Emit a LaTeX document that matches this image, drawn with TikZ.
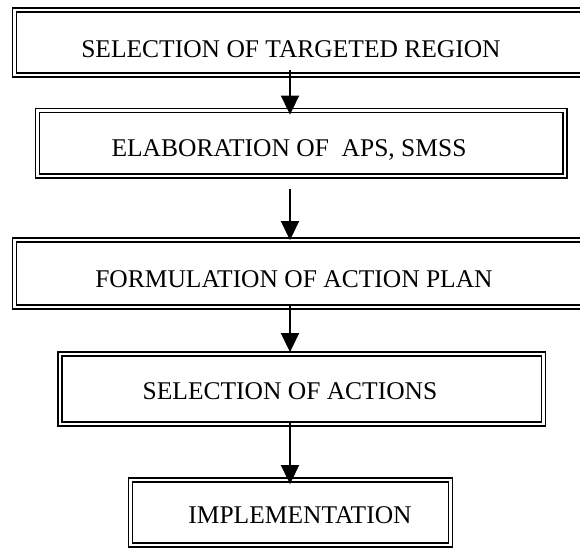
\documentclass[tikz,border=0pt]{standalone}
\usepackage{fontspec}
\setmainfont{Liberation Serif}
\usetikzlibrary{arrows.meta}
\tikzset{
  stagebox/.style={draw, double, double distance=2.2pt, line width=1.8pt, inner sep=0pt},
  stagetext/.style={anchor=base, inner sep=0pt, font=\fontsize{25.5}{30}\selectfont},
  flow/.style={line width=1.6pt, -{Triangle[length=19pt,width=18pt]}}
}
\begin{document}
\begin{tikzpicture}[x=1pt, y=-1pt]
  \useasboundingbox (0,0) rectangle (580,547);
  % framed stages, top to bottom
  \node[stagebox, minimum width=585.5pt, minimum height=65pt] (region) at (307.25,42.5) {};
  \node[stagebox, minimum width=527.5pt, minimum height=65.5pt] (elab) at (301.25,143.25) {};
  \node[stagebox, minimum width=585.5pt, minimum height=67pt] (plan) at (307.25,273.5) {};
  \node[stagebox, minimum width=483.5pt, minimum height=70pt] (choice) at (301.75,389) {};
  \node[stagebox, minimum width=320pt, minimum height=65pt] (impl) at (290.5,512.5) {};
  % stage labels
  \node[stagetext] (regiontxt) at (291,57) {SELECTION OF TARGETED REGION};
  \node[stagetext] (elabtxt) at (289,156) {ELABORATION OF \ APS, SMSS};
  \node[stagetext] (plantxt) at (294,287) {FORMULATION OF ACTION PLAN};
  \node[stagetext] (choicetxt) at (290,399) {SELECTION OF ACTIONS};
  \node[stagetext] (impltxt) at (300,523) {IMPLEMENTATION};
  % arrow start points
  \coordinate (s1) at (290,70);
  \coordinate (s2) at (290,189);
  \coordinate (s3) at (290,304);
  \coordinate (s4) at (290,422);
  % arrows between stages
  \draw[flow] (s1) -- ([yshift=-5pt]s1 |- elab.north);
  \draw[flow] (s2) -- ([yshift=-1pt]s2 |- plan.north);
  \draw[flow] (s3) -- ([yshift=1pt]s3 |- choice.north);
  \draw[flow] (s4) -- ([yshift=-5pt]s4 |- impl.north);
\end{tikzpicture}
\end{document}
